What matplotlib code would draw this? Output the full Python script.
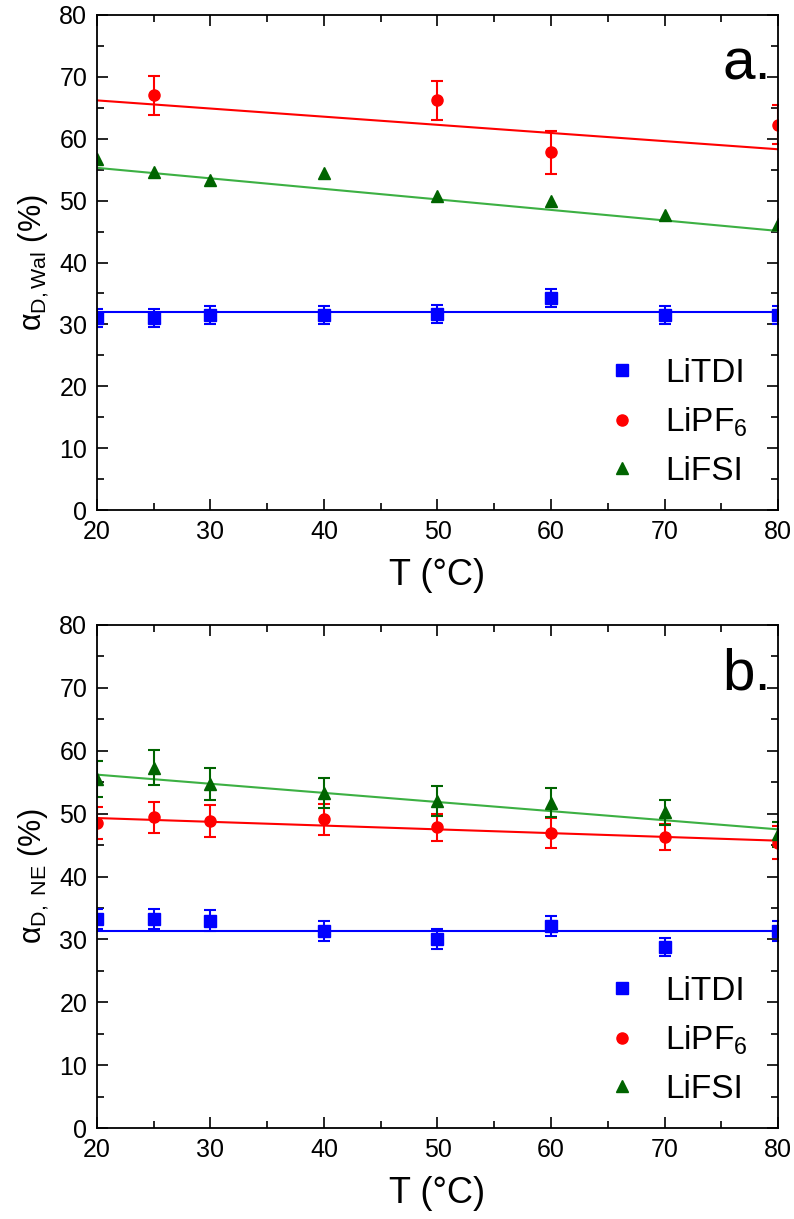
import numpy as np
import matplotlib
matplotlib.use("Agg")
import matplotlib.pyplot as plt

plt.rcParams['font.family'] = ['Liberation Sans', 'DejaVu Sans']
plt.rcParams['mathtext.fontset'] = 'custom'
plt.rcParams['mathtext.rm'] = 'Liberation Sans'
plt.rcParams['mathtext.it'] = 'Liberation Sans:italic'

# temperatures (°C)
T = [20, 25, 30, 40, 50, 60, 70, 80]
T_pf6_a = [25, 50, 60, 80]

# panel a: alpha_D,Wal (%)
tdi_a = [31.0, 31.0, 31.5, 31.5, 31.7, 34.3, 31.5, 31.5]
tdi_a_err = [1.5, 1.5, 1.5, 1.5, 1.5, 1.5, 1.5, 1.5]
pf6_a = [67.0, 66.2, 57.8, 62.3]
pf6_a_err = [3.2, 3.2, 3.5, 3.2]
fsi_a = [56.8, 54.7, 53.3, 54.4, 50.7, 50.0, 47.7, 46.2]
fit_tdi_a = [32.0, 32.0]
fit_pf6_a = [66.2, 58.3]
fit_fsi_a = [55.3, 45.1]

# panel b: alpha_D,NE (%)
tdi_b = [33.2, 33.3, 33.0, 31.4, 30.0, 32.1, 28.8, 31.3]
tdi_b_err = [1.6, 1.6, 1.6, 1.6, 1.6, 1.6, 1.4, 1.6]
pf6_b = [48.5, 49.4, 48.8, 49.1, 47.8, 46.9, 46.3, 45.4]
pf6_b_err = [2.5, 2.5, 2.5, 2.5, 2.2, 2.4, 2.1, 2.6]
fsi_b = [55.5, 57.3, 54.7, 53.3, 52.0, 51.7, 50.2, 46.7]
fsi_b_err = [2.8, 2.8, 2.6, 2.4, 2.4, 2.3, 2.0, 2.0]
fit_tdi_b = [31.3, 31.3]
fit_pf6_b = [49.3, 45.7]
fit_fsi_b = [56.2, 47.5]

fit_T = [20, 80]
labels = ['LiTDI', 'LiPF$_6$', 'LiFSI']

blue = '#0000ff'
red = '#ff0000'
green_m = '#006400'
green_l = '#3cb043'

eb = dict(ms=8, capsize=4, elinewidth=1.5, capthick=1.5)


def setup_axes(ax, ylabel, tag):
    ax.set_xlim(20, 80)
    ax.set_ylim(0, 80)
    ax.set_xticks(np.arange(20, 81, 10))
    ax.set_xticks(np.arange(25, 80, 10), minor=True)
    ax.set_yticks(np.arange(0, 81, 10))
    ax.set_yticks(np.arange(5, 80, 10), minor=True)
    ax.tick_params(which='both', direction='in', top=True, right=True,
                   labelsize=18, width=1.2, pad=7)
    ax.tick_params(which='major', length=8)
    ax.tick_params(which='minor', length=5)
    for s in ax.spines.values():
        s.set_linewidth(1.3)
    ax.set_xlabel('T (°C)', fontsize=26, labelpad=10)
    ax.set_ylabel(ylabel, fontsize=22, labelpad=6)
    ax.text(0.99, 0.955, tag, transform=ax.transAxes, ha='right', va='top',
            fontsize=42)


fig = plt.figure(figsize=(7.94, 12.19), dpi=100)
ax1 = fig.add_axes([0.122, 0.5816, 0.858, 0.4061])
ax2 = fig.add_axes([0.122, 0.0746, 0.858, 0.4127])

# panel a
ax1.plot(fit_T, fit_tdi_a, color=blue, lw=1.5)
ax1.plot(fit_T, fit_pf6_a, color=red, lw=1.5)
ax1.plot(fit_T, fit_fsi_a, color=green_l, lw=1.5)
h1 = ax1.errorbar(T, tdi_a, yerr=tdi_a_err, fmt='s', color=blue, **eb)
h2 = ax1.errorbar(T_pf6_a, pf6_a, yerr=pf6_a_err, fmt='o', color=red, **eb)
h3, = ax1.plot(T, fsi_a, '^', color=green_m, ms=8)
handles_a = [h1[0], h2[0], h3]
setup_axes(ax1, r'α$_{\mathrm{D,Wal}}$ (%)', 'a.')

# panel b
ax2.plot(fit_T, fit_tdi_b, color=blue, lw=1.5)
ax2.plot(fit_T, fit_pf6_b, color=red, lw=1.5)
ax2.plot(fit_T, fit_fsi_b, color=green_l, lw=1.5)
g1 = ax2.errorbar(T, tdi_b, yerr=tdi_b_err, fmt='s', color=blue, **eb)
g2 = ax2.errorbar(T, pf6_b, yerr=pf6_b_err, fmt='o', color=red, **eb)
g3 = ax2.errorbar(T, fsi_b, yerr=fsi_b_err, fmt='^', color=green_m, **eb)
handles_b = [g1[0], g2[0], g3[0]]
setup_axes(ax2, r'α$_{\mathrm{D,\ NE}}$ (%)', 'b.')

for ax, hs in ((ax1, handles_a), (ax2, handles_b)):
    ax.legend(hs, labels, loc='lower right', frameon=False, fontsize=24,
              handletextpad=0.8, labelspacing=0.5, borderaxespad=0.3,
              handlelength=1.0, bbox_to_anchor=(0.99, 0.0))

fig.savefig('out.png', dpi=100)
